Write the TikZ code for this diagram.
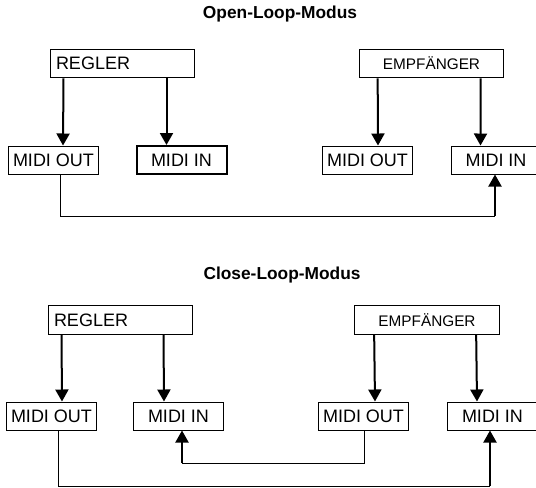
\documentclass[tikz,border=0pt]{standalone}
\usepackage{fontspec}
\setmainfont{Liberation Sans}
\usetikzlibrary{arrows.meta, calc}

\begin{document}
\begin{tikzpicture}[x=0.75pt, y=-0.75pt,
    box/.style={draw, line width=0.75pt, minimum width=67.5pt, minimum height=21pt, inner sep=0pt, font=\fontsize{13.5}{15}\selectfont},
    ctrl/.style={box, text width=99pt, inner xsep=4.5pt, minimum height=21.5pt, align=left},
    recv/.style={box, minimum width=108.5pt, minimum height=21.5pt, font=\fontsize{11.5}{13}\selectfont},
    title/.style={font=\fontsize{13}{15}\selectfont\bfseries},
    arrow/.style={-{Triangle[width=9.75pt, length=9pt]}, line width=1.5pt},
    wire/.style={line width=0.75pt}
]
\useasboundingbox (0,0) rectangle (536,487);
\clip (0,0) rectangle (536,487);

% Open-Loop
\node[title] (titleA) at (280,14) {Open-Loop-Modus};
\node[ctrl] (reglerA) at (122,63.5) {REGLER};
\node[recv] (empfA) at (431.5,63.5) {EMPFÄNGER};
\node[box] (outA1) at (53.5,160) {MIDI OUT};
\node[box, line width=1.5pt] (inA1) at (181.5,160) {MIDI IN};
\node[box] (outA2) at (367.5,160) {MIDI OUT};
\node[box] (inA2) at (496,160) {MIDI IN};

\draw[arrow] ($(reglerA.south west)+(14,0)$) -- ($(outA1.north west)+(55,0)$);
\draw[arrow] ($(reglerA.south west)+(117,0)$) -- ($(inA1.north west)+(31,0)$);
\draw[arrow] ($(empfA.south west)+(19,0)$) -- ($(outA2.north west)+(56,0)$);
\draw[arrow] ($(empfA.south west)+(122,0)$) -- ($(inA2.north west)+(30,0)$);

\coordinate (cA1) at (60,216);
\coordinate (cA2) at (495,216);
\draw[wire] (cA1 |- outA1.south) -- (cA1) -- (cA2);
\draw[arrow] (cA2) -- (cA2 |- inA2.south);

% Close-Loop
\node[title] (titleB) at (282,275.5) {Close-Loop-Modus};
\node[ctrl] (reglerB) at (120,320) {REGLER};
\node[recv] (empfB) at (427,320) {EMPFÄNGER};
\node[box] (outB1) at (51.5,416) {MIDI OUT};
\node[box] (inB1) at (178.5,416) {MIDI IN};
\node[box] (outB2) at (363.5,416) {MIDI OUT};
\node[box] (inB2) at (492.5,416) {MIDI IN};

\draw[arrow] ($(reglerB.south west)+(14,0)$) -- ($(outB1.north west)+(56,0)$);
\draw[arrow] ($(reglerB.south west)+(116,0)$) -- ($(inB1.north west)+(31,0)$);
\draw[arrow] ($(empfB.south west)+(20,0)$) -- ($(outB2.north west)+(57,0)$);
\draw[arrow] ($(empfB.south west)+(122,0)$) -- ($(inB2.north west)+(30,0)$);

\coordinate (cB1) at (364,463);
\coordinate (cB2) at (182,463);
\draw[wire] (cB1 |- outB2.south) -- (cB1) -- (cB2);
\draw[arrow] (cB2) -- (cB2 |- inB1.south);

\coordinate (cB3) at (58,486);
\coordinate (cB4) at (490,486);
\draw[wire] (cB3 |- outB1.south) -- (cB3) -- (cB4);
\draw[arrow] (cB4) -- (cB4 |- inB2.south);
\end{tikzpicture}
\end{document}
